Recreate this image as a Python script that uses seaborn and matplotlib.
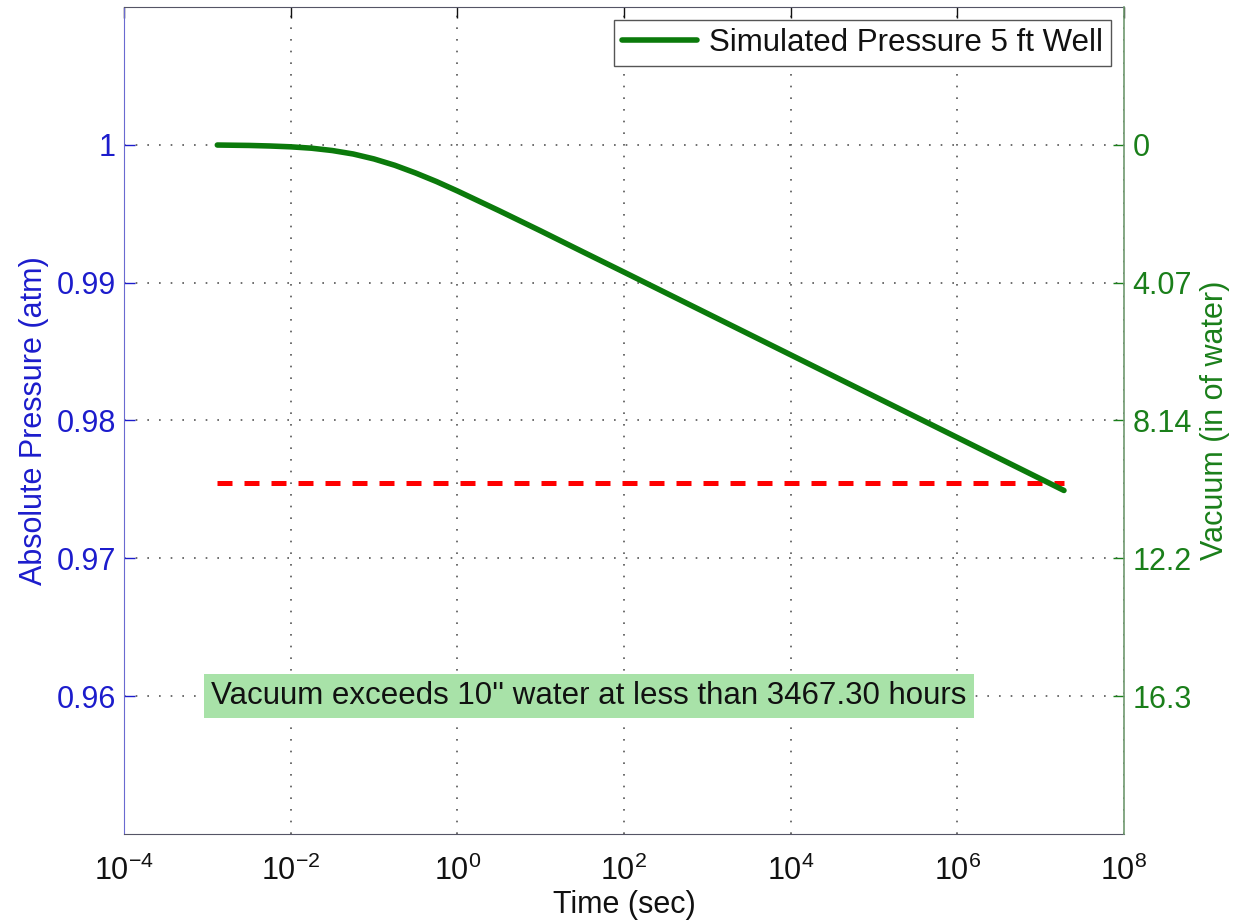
import numpy as np
import pandas as pd
import matplotlib
matplotlib.use("Agg")
import matplotlib.pyplot as plt
import seaborn as sns

# Simulated well pressure over time (seconds, atm)
time_s = [1.318e-3, 3.162e-3, 5.623e-3, 1.0e-2, 1.778e-2, 3.162e-2, 5.623e-2,
          0.1, 0.1778, 0.3162, 0.5623, 1.0, 3.162, 10.0, 31.62, 100.0,
          1.0e3, 1.0e4, 1.0e5, 1.0e6, 1.0e7, 1.905e7]
pressure_atm = [0.99998, 0.99995, 0.99991, 0.99985, 0.99975, 0.99958, 0.99933,
                0.99897, 0.99851, 0.99795, 0.99733, 0.99665, 0.99522, 0.99375,
                0.99225, 0.99076, 0.98776, 0.98476, 0.98176, 0.97876, 0.97576,
                0.97492]

# 10 inches of water expressed in atm
threshold_atm = 0.97543

x_ticks = [1e-4, 1e-2, 1e0, 1e2, 1e4, 1e6, 1e8]
x_tick_labels = [r"$10^{-4}$", r"$10^{-2}$", r"$10^{0}$", r"$10^{2}$",
                 r"$10^{4}$", r"$10^{6}$", r"$10^{8}$"]
left_ticks = [0.96, 0.97, 0.98, 0.99, 1.0]
left_tick_labels = ["0.96", "0.97", "0.98", "0.99", "1"]
right_tick_labels = ["16.3", "12.2", "8.14", "4.07", "0"]

legend_label = "Simulated Pressure 5 ft Well"
note_text = "Vacuum exceeds 10'' water at less than 3467.30 hours"

sns.set_style("white")
plt.rcParams["font.family"] = ["Liberation Sans", "DejaVu Sans"]
plt.rcParams["mathtext.fontset"] = "custom"
plt.rcParams["mathtext.rm"] = "Liberation Sans"
plt.rcParams["mathtext.it"] = "Liberation Sans"
plt.rcParams["mathtext.default"] = "regular"

FS = 22
BLUE = "#1c1ccc"
GREEN = "#1a7f1a"
LINE_GREEN = "#0b7a0b"

df = pd.DataFrame({"time": time_s, "pressure": pressure_atm})
thr = pd.DataFrame({"time": [time_s[0], time_s[-1]],
                    "pressure": [threshold_atm, threshold_atm]})

fig = plt.figure(figsize=(12.35, 9.21), dpi=100)
ax = fig.add_axes([0.1004, 0.0945, 0.8097, 0.898])
ax.set_xscale("log")

sns.lineplot(data=thr, x="time", y="pressure", ax=ax, color="red",
             linewidth=3.6, zorder=3)
ax.lines[-1].set_dashes((3, 2.4))
sns.lineplot(data=df, x="time", y="pressure", ax=ax, color=LINE_GREEN,
             linewidth=4.0, zorder=4, label=legend_label)
green_line = ax.lines[-1]
if ax.get_legend() is not None:
    ax.get_legend().remove()

ax.set_xlim(1e-4, 1e8)
ax.set_ylim(0.95, 1.01)
ax.set_xticks(x_ticks)
ax.set_xticklabels(x_tick_labels)
ax.xaxis.set_minor_locator(matplotlib.ticker.NullLocator())
ax.set_yticks(left_ticks)
ax.set_yticklabels(left_tick_labels)

ax.grid(True, which="major", linestyle=(0, (1, 6)), color="#555555", linewidth=1.2)
ax.tick_params(axis="x", direction="in", length=8, width=1, top=True,
               labelsize=FS, colors="#111111", pad=16)
ax.tick_params(axis="y", direction="in", length=8, width=1, right=False,
               labelsize=FS, colors=BLUE, pad=6)
ax.set_xlabel("Time (sec)", fontsize=FS, color="#111111", labelpad=2)
ax.set_ylabel("Absolute Pressure (atm)", fontsize=FS, color=BLUE, labelpad=5)

for side in ("top", "bottom"):
    ax.spines[side].set_color("#555566")
ax.spines["left"].set_color("#6a6ad0")
ax.spines["right"].set_visible(False)

ax.text(38, 0.96, note_text, fontsize=22.5, color="#111111",
        ha="center", va="center", zorder=6,
        bbox=dict(facecolor="#a8e2a8", edgecolor="none", pad=5))

ax2 = ax.twinx()
ax2.set_ylim(ax.get_ylim())
ax2.set_yticks(left_ticks)
ax2.set_yticklabels(right_tick_labels)
ax2.tick_params(axis="y", direction="in", length=8, width=1,
                labelsize=FS, colors=GREEN, pad=6)
ax2.set_ylabel("Vacuum (in of water)", fontsize=FS, color=GREEN, labelpad=6)
ax2.spines["right"].set_color("#6f9a6f")
ax2.spines["right"].set_linewidth(1.2)
for side in ("top", "bottom", "left"):
    ax2.spines[side].set_visible(False)

leg = ax2.legend([green_line], [legend_label], loc="upper right",
                 fontsize=22.5, frameon=True, fancybox=False, framealpha=1,
                 edgecolor="#555555", handlelength=2.4, handletextpad=0.4,
                 borderpad=0.25, borderaxespad=0.42)
leg.get_frame().set_linewidth(1.0)
for t in leg.get_texts():
    t.set_color("#111111")

fig.savefig("out.png", dpi=100)
